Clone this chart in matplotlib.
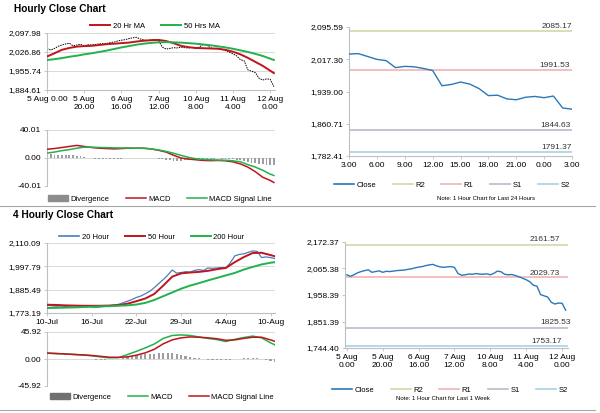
import numpy as np
import matplotlib
matplotlib.use("Agg")
import matplotlib.pyplot as plt
from matplotlib.lines import Line2D
from matplotlib.patches import Patch

plt.rcParams["font.family"] = ["Liberation Sans", "DejaVu Sans"]

W, H = 600, 413

# ---------------------------------------------------------------------------
# Hourly data (last week, one value every 2 hours, weekend removed)
# ---------------------------------------------------------------------------
x_1w = np.arange(0, 123, 2)
close_1w = [2040, 2034, 2040, 2048, 2053, 2057, 2060, 2050, 2053, 2056,
            2050, 2054, 2053, 2055, 2057, 2058, 2059, 2062, 2064, 2068,
            2071, 2073, 2077, 2080, 2082, 2076, 2072, 2070, 2072, 2073,
            2070, 2045, 2038, 2040, 2043, 2042, 2045, 2043, 2042, 2044,
            2040, 2046, 2055, 2052, 2042, 2040, 2041, 2037, 2032, 2026,
            2020, 2012, 1998, 1994, 1960, 1955, 1950, 1929, 1922, 1926,
            1925, 1897]
div_1h = [5.5, 5.5, 5, 5, 4.5, 4.5, 4, 4, 3.5, 2.5, 1, 0.5, -0.5, -0.8, -1,
          -1, -1.2, -1.2, -1.3, -1, -0.8, -0.6, -0.3, -0.2, 0, 0, 0.2, 0, 0,
          -0.5, -1, -1.5, -2.5, -3.5, -3.8, -4, -4, -3.5, -3, -2, -1.5, -1.5,
          -1.5, -1.2, -1.2, -0.8, -0.5, -0.8, -1, -1.5, -2, -3, -3.5, -4.5,
          -5.5, -6.5, -7, -8, -9, -9.5, -9.5, -10]

x_ma1h = np.append(np.arange(0, 121, 4), 122)
ma20_1h = [2010, 2022, 2035, 2042, 2047, 2049, 2050, 2053, 2056, 2058, 2060,
           2062, 2066, 2069, 2071, 2072, 2068, 2060, 2050, 2045, 2042, 2041,
           2040, 2039, 2035, 2028, 2018, 2005, 1990, 1975, 1957, 1948]
ma50_1h = [1997, 2000, 2004, 2009, 2013, 2018, 2022, 2027, 2032, 2038, 2044,
           2049, 2054, 2058, 2061, 2063, 2064, 2063, 2062, 2060, 2058, 2055,
           2052, 2048, 2044, 2039, 2033, 2027, 2020, 2012, 2002, 1997]
macd_1h = [12.5, 13.5, 15, 16.5, 18, 16.5, 15, 14, 13.5, 13, 13.5, 14, 14, 14,
           13, 11, 8.5, 4, 0, -1.5, -2.5, -3.5, -3.8, -3.5, -4, -5.5, -8.5,
           -13, -19.5, -27.5, -32, -35]
signal_1h = [7, 8.5, 10.5, 12, 14, 15.5, 15.5, 15, 14.8, 14.5, 14.3, 14.2, 14,
             13.8, 13, 11.5, 9.5, 6.8, 3.8, 1, -1, -2, -2.6, -3, -3.2, -4,
             -5.5, -9.5, -13, -17.5, -23, -25]

hour_ticks = [0, 20, 40, 60, 80, 100, 120]
hour_labels_tl = ["5 Aug 0.00", "5 Aug\n20.00", "6 Aug\n16.00", "7 Aug\n12.00",
                  "10 Aug\n8.00", "11 Aug\n4.00", "12 Aug\n0.00"]
hour_labels_br = ["5 Aug\n0.00", "5 Aug\n20.00", "6 Aug\n16.00", "7 Aug\n12.00",
                  "10 Aug\n8.00", "11 Aug\n4.00", "12 Aug\n0.00"]

# last 24 hours
x_24h = np.arange(0, 25)
close_24h = [2030, 2031, 2024, 2017, 2014, 1997, 2000, 1999, 1995, 1990,
             1953, 1956, 1962, 1957, 1946, 1929, 1930, 1921, 1919, 1925,
             1927, 1924, 1928, 1899, 1896]
labels_24h = ["3.00", "6.00", "9.00", "12.00", "15.00", "18.00", "21.00",
              "0.00", "3.00"]
levels_24h = {"R2": 2085.17, "R1": 1991.53, "S1": 1844.63, "S2": 1791.37}
levels_1w = {"R2": 2161.57, "R1": 2029.73, "S1": 1825.53, "S2": 1753.17}

# ---------------------------------------------------------------------------
# 4 hourly data
# ---------------------------------------------------------------------------
x_4h = np.arange(0, 154, 3)
close_4h = [1810, 1808, 1806, 1807, 1805, 1806, 1808, 1807, 1808, 1808,
            1803, 1800, 1803, 1806, 1808, 1812, 1815, 1822, 1830, 1838,
            1848, 1855, 1866, 1878, 1895, 1915, 1934, 1955, 1980, 1965,
            1968, 1972, 1970, 1978, 1982, 1978, 1990, 1988, 1990, 1992,
            1990, 2015, 2048, 2055, 2058, 2065, 2072, 2070, 2040, 2043,
            2040, 2035]
div_4h = [0, -0.3, -0.5, -0.5, -0.5, -0.6, -0.6, -0.5, -0.5, -0.5, -0.8, -1,
          -1, -1, -0.8, -0.5, 0.5, 2, 4, 5, 6, 7, 8, 8.5, 9, 9.5, 10, 10.5,
          10, 8.5, 6.5, 5, 3.5, 2, 1, 0, -1, -1.5, -2, -2.2, -2.2, -1.5, -0.5,
          0.5, 1.2, 1.8, 2, 2, 0.5, -2, -4, -5]

x_ma4h = np.append(np.arange(0, 151, 6), 153)
ma50_4h = [1813, 1812, 1810, 1809, 1808, 1808, 1808, 1809, 1811, 1818, 1830,
           1843, 1865, 1905, 1948, 1964, 1968, 1971, 1976, 1984, 1990, 2018,
           2042, 2062, 2063, 2052, 2046]
ma200_4h = [1797, 1798, 1799, 1800, 1802, 1803, 1805, 1806, 1808, 1810, 1814,
            1822, 1836, 1854, 1872, 1890, 1905, 1917, 1930, 1942, 1954, 1966,
            1982, 1995, 2007, 2015, 2018]
macd_4h = [10, 9.2, 8.5, 7.8, 6.8, 5.5, 3.6, 2, 2.4, 7.5, 13, 19, 25.5, 35,
           40, 41, 40, 37.5, 35, 33, 29.7, 33.5, 36.5, 39, 36, 27.5, 24]
signal_4h = [10, 9.4, 8.6, 7.7, 7, 6, 4.5, 3, 2.8, 3.6, 6.5, 10.5, 16.5, 25.8,
             32.5, 36, 37.5, 37, 36, 34.5, 31.8, 32.5, 35, 37, 37, 32.5, 30]
day_ticks = [0, 30, 60, 90, 120, 150]
day_labels = ["10-Jul", "16-Jul", "22-Jul", "29-Jul", "4-Aug", "10-Aug"]

# y ticks as printed on the reference
yt_tl = [1884.61, 1955.74, 2026.86, 2097.98]
yt_macd1 = [-40.01, 0.0, 40.01]
yt_tr = [1782.41, 1860.71, 1939.00, 2017.30, 2095.59]
yt_bl = [1773.19, 1885.49, 1997.79, 2110.09]
yt_macd4 = [-45.92, 0.0, 45.92]
yt_br = [1744.40, 1851.39, 1958.39, 2065.38, 2172.37]

RED = "#c0141c"
GREEN = "#22b14c"
BLUE = "#4a7ebb"
CLOSE_BLUE = "#2a78b8"
LVL_COLORS = {"R2": "#d6d6a8", "R1": "#f0b4b4", "S1": "#bdb6c8", "S2": "#a8d2e6"}
AX_GRAY = "#bfbfbf"
TICK_FS = 6
LEG_FS = 5.5


def px_axes(fig, x0, y0, x1, y1):
    return fig.add_axes([x0 / W, 1 - y1 / H, (x1 - x0) / W, (y1 - y0) / H])


def style_ax(ax, yticks, grid=True):
    for s in ["top", "right"]:
        ax.spines[s].set_visible(False)
    for s in ["left", "bottom"]:
        ax.spines[s].set_color(AX_GRAY)
        ax.spines[s].set_linewidth(0.8)
    ax.set_ylim(yticks[0], yticks[-1])
    ax.set_yticks(yticks)
    ax.set_yticklabels([f"{v:,.2f}" for v in yticks])
    ax.tick_params(labelsize=TICK_FS, length=2.5, width=0.6, color=AX_GRAY, pad=1.5)
    if grid:
        ax.grid(True, axis="y", color="#d9d9d9", linewidth=0.7)
        ax.set_axisbelow(True)


def legend(fig, handles, cx, cy, fs=LEG_FS):
    fig.legend(handles=handles, loc="center", bbox_to_anchor=(cx / W, 1 - cy / H),
               ncol=len(handles), frameon=False, fontsize=fs, handlelength=2.6,
               handletextpad=0.3, columnspacing=2.2, borderaxespad=0, borderpad=0)


def level_panel(ax, x, close, levels, label_pos):
    ax.plot(x, close, color=CLOSE_BLUE, lw=1.0, zorder=3)
    for key, val in levels.items():
        ax.axhline(val, color=LVL_COLORS[key], lw=1.2, zorder=2)
        lx, dy = label_pos[key]
        ax.text(lx, val + dy, f"{val:.2f}", ha="right", va="bottom",
                fontsize=6, color="#333333")


fig = plt.figure(figsize=(W / 100, H / 100), dpi=100)

# --- Hourly close chart --------------------------------------------------
fig.text(14 / W, 1 - 9 / H, "Hourly Close Chart", fontsize=7.3, fontweight="bold",
         va="center", ha="left")

ax = px_axes(fig, 47, 33, 275, 90)
ax.plot(x_1w, close_1w, color="black", lw=0.7, ls=(0, (1.5, 1)), zorder=2)
ax.plot(x_ma1h, ma20_1h, color=RED, lw=1.4, zorder=3)
ax.plot(x_ma1h, ma50_1h, color=GREEN, lw=1.4, zorder=3)
ax.set_xlim(0, 122.6)
ax.set_xticks(hour_ticks)
ax.set_xticklabels(hour_labels_tl, linespacing=1.2)
style_ax(ax, yt_tl)
legend(fig, [Line2D([], [], color=RED, lw=1.4, label="20 Hr MA"),
             Line2D([], [], color=GREEN, lw=1.4, label="50 Hrs MA")], 155, 26)

ax = px_axes(fig, 47, 130, 275, 186)
ax.bar(x_1w, div_1h, width=1.0, color="#9e9e9e", zorder=2)
ax.plot(x_ma1h, macd_1h, color=RED, lw=1.1, zorder=3)
ax.plot(x_ma1h, signal_1h, color=GREEN, lw=1.1, zorder=3)
ax.set_xlim(0, 122.6)
ax.set_xticks([])
style_ax(ax, yt_macd1)
ax.spines["bottom"].set_visible(False)
legend(fig, [Patch(color="#8c8c8c", label="Divergence"),
             Line2D([], [], color=RED, lw=1.1, label="MACD"),
             Line2D([], [], color=GREEN, lw=1.1, label="MACD Signal Line")], 160, 199)

ax = px_axes(fig, 349, 27, 572, 156)
level_panel(ax, x_24h, close_24h, levels_24h,
            {"R2": (24, 3), "R1": (23.8, 3), "S1": (23.9, 3), "S2": (24, 3)})
ax.set_xlim(0, 24)
ax.set_xticks(np.arange(0, 25, 3))
ax.set_xticklabels(labels_24h)
style_ax(ax, yt_tr, grid=False)
legend(fig, [Line2D([], [], color=CLOSE_BLUE, lw=1.2, label="Close")] +
       [Line2D([], [], color=LVL_COLORS[k], lw=1.2, label=k) for k in levels_24h],
       452, 185)
fig.text(486 / W, 1 - 199 / H, "Note: 1 Hour Chart for Last 24 Hours", fontsize=4.3,
         ha="center", va="center")

# separators
fig.add_artist(Line2D([0, 595 / W], [1 - 206 / H, 1 - 206 / H], color="#a6a6a6", lw=0.8))
fig.add_artist(Line2D([0, 595 / W], [1 - 410 / H, 1 - 410 / H], color="#a6a6a6", lw=0.8))

# --- 4 hourly close chart ------------------------------------------------
fig.text(13 / W, 1 - 215 / H, "4 Hourly Close Chart", fontsize=7.3, fontweight="bold",
         va="center", ha="left")

ax = px_axes(fig, 47, 243, 275, 313)
ax.plot(x_4h, close_4h, color=BLUE, lw=0.9, zorder=3)
ax.plot(x_ma4h, ma50_4h, color=RED, lw=1.4, zorder=4)
ax.plot(x_ma4h, ma200_4h, color=GREEN, lw=1.4, zorder=4)
ax.set_xlim(0, 153)
ax.set_xticks(day_ticks)
ax.set_xticklabels(day_labels)
style_ax(ax, yt_bl)
legend(fig, [Line2D([], [], color=BLUE, lw=1.2, label="20 Hour"),
             Line2D([], [], color=RED, lw=1.4, label="50 Hour"),
             Line2D([], [], color=GREEN, lw=1.4, label="200 Hour")], 152, 237)

ax = px_axes(fig, 47, 332, 275, 386)
ax.bar(x_4h, div_4h, width=1.5, color="#9e9e9e", zorder=2)
ax.plot(x_ma4h, macd_4h, color=GREEN, lw=1.1, zorder=3)
ax.plot(x_ma4h, signal_4h, color=RED, lw=1.1, zorder=3)
ax.set_xlim(0, 153)
ax.set_xticks([])
style_ax(ax, yt_macd4)
ax.spines["bottom"].set_visible(False)
legend(fig, [Patch(color="#707070", label="Divergence"),
             Line2D([], [], color=GREEN, lw=1.1, label="MACD"),
             Line2D([], [], color=RED, lw=1.1, label="MACD Signal Line")], 162, 397)

ax = px_axes(fig, 345, 242, 568, 348)
level_panel(ax, x_1w, close_1w, levels_1w,
            {"R2": (119, 5), "R1": (119, 3), "S1": (125, 6), "S2": (120, 3)})
ax.set_xlim(-1, 123.3)
ax.set_xticks(hour_ticks)
ax.set_xticklabels(hour_labels_br, linespacing=1.2)
style_ax(ax, yt_br, grid=False)
legend(fig, [Line2D([], [], color=CLOSE_BLUE, lw=1.2, label="Close")] +
       [Line2D([], [], color=LVL_COLORS[k], lw=1.2, label=k) for k in levels_1w],
       450, 390)
fig.text(443 / W, 1 - 398 / H, "Note: 1 Hour Chart for Last 1 Week", fontsize=4.3,
         ha="center", va="center")

fig.savefig("out.png", dpi=100)
